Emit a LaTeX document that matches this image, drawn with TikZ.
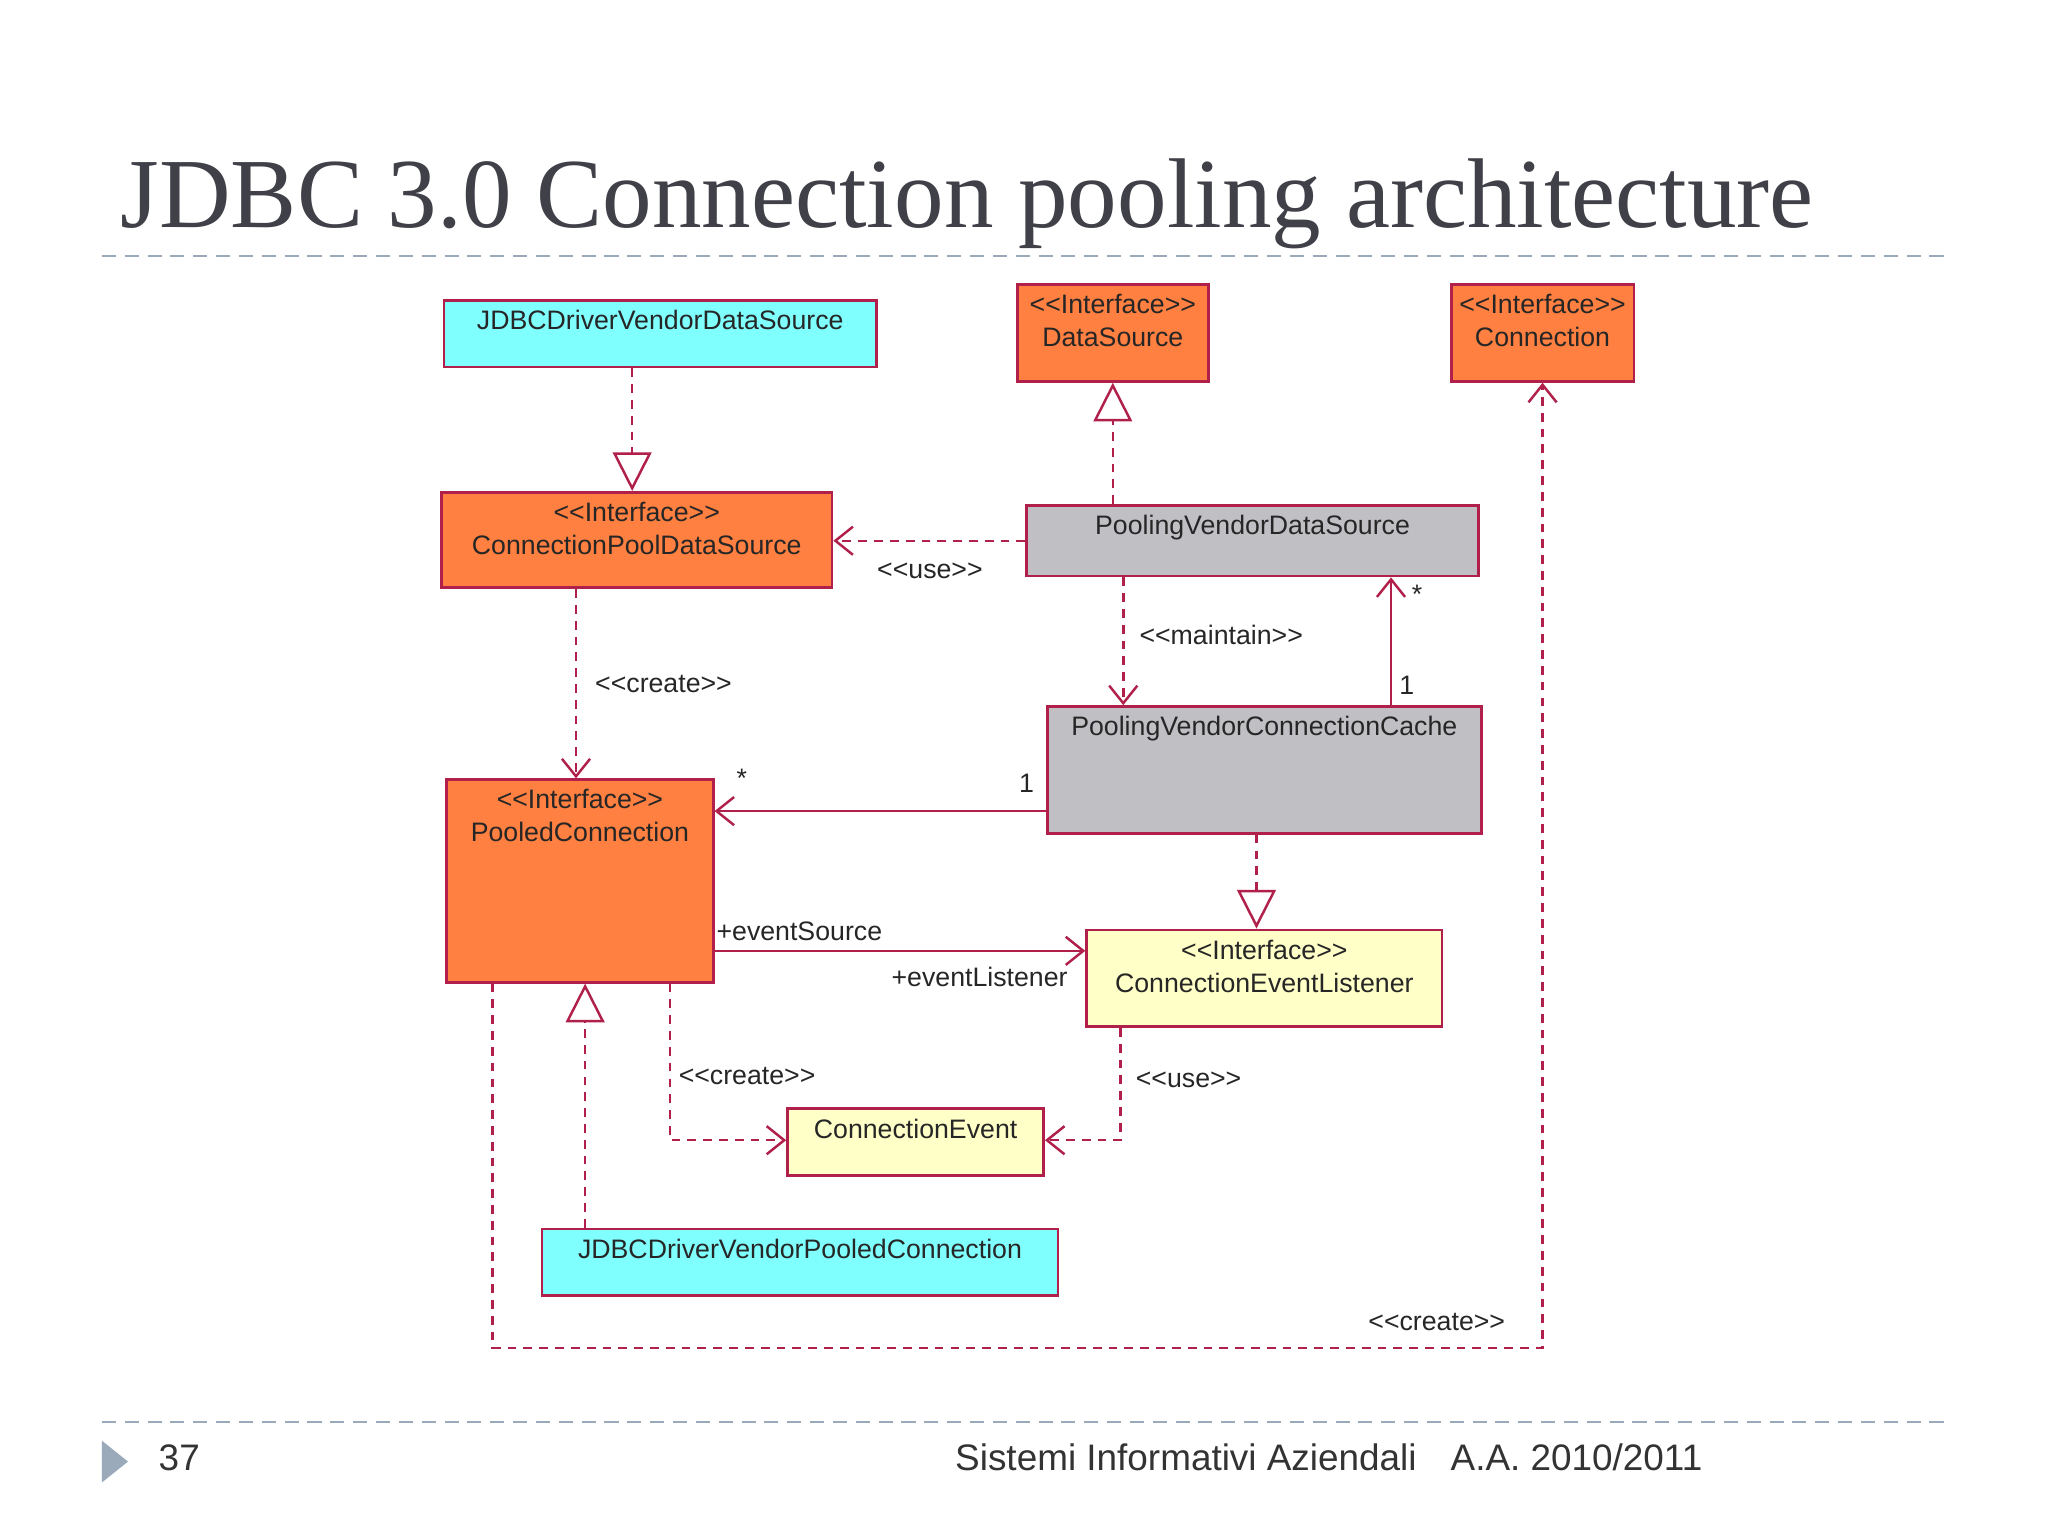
\documentclass[tikz,border=0pt]{standalone}
\usepackage{fontspec}
\setmainfont{Liberation Serif}
\setsansfont{Liberation Sans}
\usetikzlibrary{arrows.meta,fit}
\definecolor{edge}{HTML}{B0204A}
\definecolor{cyanbox}{HTML}{80FFFF}
\definecolor{orangebox}{HTML}{FF8040}
\definecolor{graybox}{HTML}{C0C0C4}
\definecolor{yellowbox}{HTML}{FFFFC8}
\definecolor{rule}{HTML}{9AAABB}
\definecolor{titlec}{HTML}{404048}
\newcommand{\st}[1]{{<}{<}#1{>}{>}}
\tikzset{
  box/.style={draw=edge, line width=0.8pt, inner sep=0pt},
  lbl/.style={font=\sffamily\fontsize{7.6}{9.4}\selectfont, align=center, inner sep=0pt, text=black!85},
  dep/.style={draw=edge, line width=0.7pt, dash pattern=on 2.5pt off 2pt},
  assoc/.style={draw=edge, line width=0.7pt},
  open/.style={-{Straight Barb[length=5pt,width=8pt]}},
  real/.style={-{Triangle[open,length=11pt,width=11pt,fill=white]}},
  foot/.style={anchor=base, font=\sffamily\fontsize{10.5}{12}\selectfont, inner sep=0pt, text=black!80},
}
% \umlbox{name}{x1}{y1}{x2}{y2}{colour}{text}
\newcommand{\umlbox}[7]{%
  \node[box, fill=#6, fit={(#2,#3)(#4,#5)}] (#1) {};
  \node[lbl, anchor=north] (#1-t) at ({(#2+#4)/2},#3+7) {#7};
}
\begin{document}
\begin{tikzpicture}[x=0.013061cm, y=-0.013061cm]
\useasboundingbox (0,0) rectangle (1568,1176);

% title and rules
\node[anchor=base west, text=titlec, font=\fontsize{28.2}{30}\selectfont, inner sep=0pt] (title) at (92,174) {JDBC 3.0 Connection pooling architecture};
\draw[rule, dash pattern=on 4pt off 2.5pt, line width=0.5pt] (78,196) -- (1490,196);
\draw[rule, dash pattern=on 4pt off 2.5pt, line width=0.5pt] (78,1089) -- (1490,1089);

% boxes
\umlbox{jvds}{340}{230}{671}{281}{cyanbox}{JDBCDriverVendorDataSource}
\umlbox{ds}{779}{218}{925}{292}{orangebox}{\st{Interface}\\DataSource}
\umlbox{conn}{1111}{218}{1251}{292}{orangebox}{\st{Interface}\\Connection}
\umlbox{cpds}{338}{377}{637}{450}{orangebox}{\st{Interface}\\ConnectionPoolDataSource}
\umlbox{pvds}{786}{387}{1132}{441}{graybox}{PoolingVendorDataSource}
\umlbox{pvcc}{802}{541}{1134}{638}{graybox}{PoolingVendorConnectionCache}
\umlbox{pc}{342}{597}{546}{752}{orangebox}{\st{Interface}\\PooledConnection}
\umlbox{cel}{832}{712}{1104}{786}{yellowbox}{\st{Interface}\\ConnectionEventListener}
\umlbox{ce}{603}{849}{799}{900}{yellowbox}{ConnectionEvent}
\umlbox{jvpc}{415}{941}{810}{992}{cyanbox}{JDBCDriverVendorPooledConnection}

% connectors
\draw[dep, real] (jvds.south -| 484,0) -- (cpds.north -| 484,0);
\draw[dep, real] (pvds.north -| 852,0) -- (ds.south -| 852,0);
\draw[dep, open] (pvds.west |- 0,414) -- (cpds.east |- 0,414);
\node[lbl] (l1) at (712,437) {\st{use}};
\draw[dep, open] (pvds.south -| 860,0) -- (pvcc.north -| 860,0);
\node[lbl] (l2) at (935,486) {\st{maintain}};
\draw[assoc, open] (pvcc.north -| 1065,0) -- (pvds.south -| 1065,0);
\node[lbl] (l3) at (1085,455) {*};
\node[lbl] (l4) at (1077,525) {1};
\draw[dep, open] (cpds.south -| 441,0) -- (pc.north -| 441,0);
\node[lbl] (l5) at (508,524) {\st{create}};
\draw[assoc, open] (pvcc.west |- 0,621) -- (pc.east |- 0,621);
\node[lbl] (l6) at (786,600) {1};
\node[lbl] (l7) at (568,596) {*};
\draw[dep, real] (pvcc.south -| 962,0) -- (cel.north -| 962,0);
\draw[assoc, open] (pc.east |- 0,728) -- (cel.west |- 0,728);
\node[lbl] (l8) at (612,713) {+eventSource};
\node[lbl] (l9) at (750,748) {+eventListener};
\coordinate (b1) at (513,873);
\draw[dep, open] (pc.south -| b1) -- (b1) -- (ce.west |- b1);
\node[lbl] (l10) at (572,824) {\st{create}};
\coordinate (b2) at (858,873);
\draw[dep, open] (cel.south -| b2) -- (b2) -- (ce.east |- b2);
\node[lbl] (l11) at (910,827) {\st{use}};
\draw[dep, real] (jvpc.north -| 448,0) -- (pc.south -| 448,0);
\coordinate (b3) at (377,1032);
\coordinate (b4) at (1181,1032);
\draw[dep, open] (pc.south -| b3) -- (b3) -- (b4) -- (conn.south -| b4);
\node[lbl] (l12) at (1100,1012) {\st{create}};

% footer
\fill[rule] (78,1103) -- (98,1119) -- (78,1135) -- cycle;
\node[foot, anchor=base west] (pg) at (121,1126) {37};
\node[foot] (f1) at (908,1126) {Sistemi Informativi Aziendali};
\node[foot] (f2) at (1207,1126) {A.A. 2010/2011};
\end{tikzpicture}
\end{document}
